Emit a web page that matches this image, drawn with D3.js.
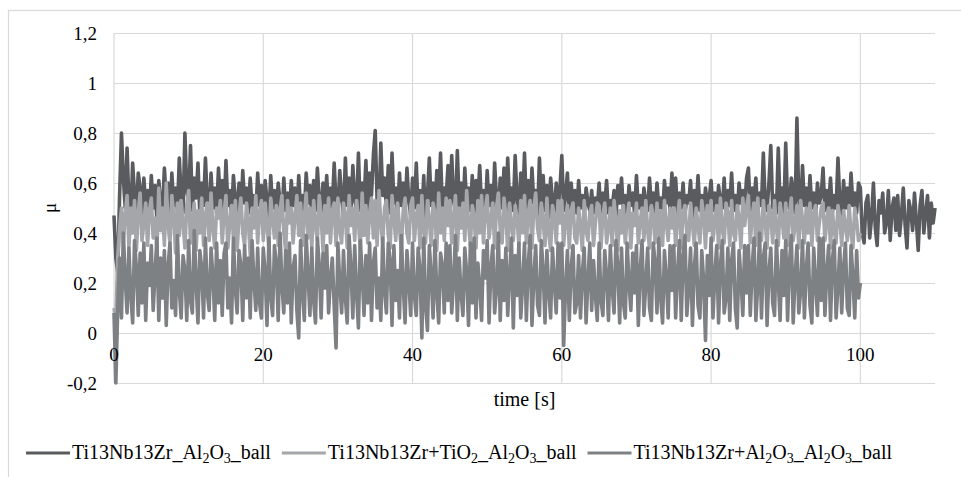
<!DOCTYPE html>
<html>
<head>
<meta charset="utf-8">
<script src="https://cdn.jsdelivr.net/npm/d3@7"></script>
<style>
  body { margin: 0; background: #fff; }
  text { font-family: "Liberation Serif", "Times New Roman", Times, "DejaVu Serif", "Noto Serif", serif; fill: #000; }
</style>
</head>
<body>
<div id="chart"></div>
<script>
// friction coefficient vs time, sampled every 0.25 s
var sampleStep = 0.25;

var yTicks = [-0.2, 0, 0.2, 0.4, 0.6, 0.8, 1, 1.2];
var xTicks = [0, 20, 40, 60, 80, 100];

var seriesNames = [
    "Ti13Nb13Zr_Al2O3_ball",
    "Ti13Nb13Zr+TiO2_Al2O3_ball",
    "Ti13Nb13Zr+Al2O3_Al2O3_ball"
];

// Ti13Nb13Zr_Al2O3_ball (0 - 110 s), one row = 5 s
var muBase = [
    0.47, 0.30, 0.24, 0.55, 0.80, 0.62, 0.50, 0.74, 0.52, 0.47, 0.68, 0.55, 0.49, 0.64, 0.58, 0.46, 0.62, 0.51, 0.57, 0.48,
    0.63, 0.50, 0.59, 0.45, 0.61, 0.52, 0.48, 0.66, 0.53, 0.60, 0.47, 0.64, 0.51, 0.58, 0.49, 0.70, 0.55, 0.48, 0.80, 0.57,
    0.52, 0.75, 0.49, 0.62, 0.54, 0.68, 0.47, 0.60, 0.51, 0.70, 0.53, 0.46, 0.64, 0.50, 0.58, 0.48, 0.66, 0.52, 0.61, 0.49,
    0.69, 0.51, 0.57, 0.47, 0.63, 0.53, 0.49, 0.60, 0.46, 0.65, 0.52, 0.58, 0.48, 0.62, 0.50, 0.55, 0.47, 0.64, 0.51, 0.59,
    0.48, 0.61, 0.53, 0.46, 0.63, 0.50, 0.57, 0.48, 0.60, 0.52, 0.45, 0.62, 0.49, 0.56, 0.47, 0.61, 0.51, 0.58, 0.46, 0.63,
    0.50, 0.55, 0.48, 0.64, 0.52, 0.59, 0.47, 0.61, 0.49, 0.66, 0.53, 0.48, 0.60, 0.51, 0.63, 0.47, 0.58, 0.50, 0.68, 0.52,
    0.49, 0.65, 0.54, 0.47, 0.70, 0.51, 0.62, 0.48, 0.67, 0.53, 0.50, 0.72, 0.49, 0.60, 0.52, 0.69, 0.48, 0.64, 0.55, 0.71,
    0.81, 0.53, 0.49, 0.76, 0.55, 0.62, 0.50, 0.67, 0.48, 0.72, 0.52, 0.58, 0.47, 0.64, 0.51, 0.60, 0.49, 0.66, 0.53, 0.47,
    0.62, 0.50, 0.68, 0.49, 0.57, 0.46, 0.63, 0.42, 0.55, 0.70, 0.51, 0.60, 0.48, 0.65, 0.52, 0.72, 0.49, 0.58, 0.54, 0.67,
    0.50, 0.71, 0.53, 0.48, 0.73, 0.51, 0.60, 0.47, 0.66, 0.52, 0.58, 0.49, 0.63, 0.46, 0.61, 0.53, 0.67, 0.50, 0.57, 0.48,
    0.65, 0.51, 0.59, 0.47, 0.68, 0.53, 0.49, 0.62, 0.50, 0.66, 0.48, 0.70, 0.52, 0.58, 0.49, 0.71, 0.54, 0.47, 0.64, 0.51,
    0.72, 0.50, 0.61, 0.48, 0.66, 0.52, 0.57, 0.47, 0.70, 0.51, 0.63, 0.49, 0.59, 0.46, 0.62, 0.53, 0.48, 0.60, 0.50, 0.58,
    0.71, 0.49, 0.55, 0.64, 0.47, 0.60, 0.51, 0.57, 0.48, 0.61, 0.50, 0.55, 0.47, 0.58, 0.52, 0.49, 0.57, 0.48, 0.54, 0.50,
    0.60, 0.47, 0.56, 0.51, 0.61, 0.48, 0.53, 0.50, 0.57, 0.46, 0.59, 0.52, 0.62, 0.49, 0.55, 0.47, 0.59, 0.51, 0.56, 0.48,
    0.63, 0.50, 0.55, 0.47, 0.58, 0.52, 0.49, 0.62, 0.51, 0.56, 0.48, 0.60, 0.50, 0.54, 0.47, 0.61, 0.52, 0.58, 0.49, 0.64,
    0.51, 0.62, 0.48, 0.56, 0.50, 0.60, 0.47, 0.55, 0.52, 0.61, 0.45, 0.57, 0.50, 0.63, 0.49, 0.55, 0.48, 0.58, 0.51, 0.54,
    0.61, 0.49, 0.56, 0.48, 0.59, 0.52, 0.50, 0.62, 0.47, 0.57, 0.51, 0.64, 0.49, 0.55, 0.48, 0.60, 0.52, 0.57, 0.50, 0.62,
    0.66, 0.49, 0.58, 0.53, 0.62, 0.48, 0.56, 0.51, 0.72, 0.52, 0.49, 0.60, 0.75, 0.50, 0.55, 0.48, 0.74, 0.51, 0.58, 0.48,
    0.76, 0.52, 0.50, 0.62, 0.57, 0.48, 0.86, 0.53, 0.49, 0.67, 0.51, 0.58, 0.48, 0.63, 0.50, 0.56, 0.47, 0.60, 0.52, 0.55,
    0.66, 0.49, 0.57, 0.51, 0.62, 0.48, 0.55, 0.50, 0.70, 0.52, 0.47, 0.61, 0.50, 0.58, 0.49, 0.64, 0.51, 0.56, 0.48, 0.60,
    0.58, 0.40, 0.36, 0.52, 0.55, 0.38, 0.46, 0.60, 0.42, 0.35, 0.53, 0.48, 0.56, 0.40, 0.44, 0.57, 0.37, 0.50, 0.54, 0.41,
    0.55, 0.39, 0.47, 0.58, 0.43, 0.34, 0.53, 0.49, 0.41, 0.56, 0.45, 0.33, 0.51, 0.57, 0.40, 0.48, 0.55, 0.38, 0.52, 0.44,
    0.50
];

// Ti13Nb13Zr+TiO2_Al2O3_ball (0 - 100 s)
var muTiO2 = [
    0.10, 0.05, 0.30, 0.42, 0.50, 0.36, 0.47, 0.55, 0.34, 0.50, 0.40, 0.53, 0.33, 0.48, 0.56, 0.37, 0.44, 0.52, 0.35, 0.49,
    0.54, 0.38, 0.46, 0.33, 0.58, 0.41, 0.50, 0.35, 0.60, 0.43, 0.36, 0.55, 0.47, 0.32, 0.52, 0.39, 0.53, 0.44, 0.34, 0.51,
    0.57, 0.36, 0.45, 0.52, 0.33, 0.49, 0.40, 0.54, 0.35, 0.47, 0.52, 0.37, 0.56, 0.42, 0.34, 0.50, 0.46, 0.53, 0.36, 0.48,
    0.55, 0.34, 0.44, 0.51, 0.38, 0.53, 0.33, 0.47, 0.54, 0.40, 0.35, 0.52, 0.45, 0.31, 0.50, 0.42, 0.55, 0.36, 0.48, 0.53,
    0.37, 0.52, 0.43, 0.34, 0.54, 0.46, 0.38, 0.51, 0.35, 0.49, 0.55, 0.40, 0.33, 0.53, 0.44, 0.50, 0.36, 0.47, 0.55, 0.39,
    0.52, 0.35, 0.46, 0.56, 0.38, 0.50, 0.34, 0.53, 0.43, 0.37, 0.55, 0.47, 0.33, 0.51, 0.40, 0.54, 0.36, 0.49, 0.52, 0.35,
    0.54, 0.41, 0.36, 0.52, 0.47, 0.34, 0.55, 0.43, 0.50, 0.37, 0.53, 0.45, 0.33, 0.56, 0.39, 0.51, 0.36, 0.48, 0.54, 0.38,
    0.53, 0.35, 0.57, 0.44, 0.36, 0.50, 0.53, 0.39, 0.34, 0.55, 0.46, 0.37, 0.52, 0.42, 0.33, 0.49, 0.54, 0.40, 0.36, 0.51,
    0.54, 0.37, 0.47, 0.51, 0.34, 0.55, 0.41, 0.36, 0.53, 0.45, 0.35, 0.52, 0.48, 0.33, 0.56, 0.40, 0.50, 0.37, 0.54, 0.43,
    0.53, 0.36, 0.46, 0.55, 0.33, 0.50, 0.42, 0.52, 0.37, 0.57, 0.44, 0.35, 0.51, 0.47, 0.34, 0.53, 0.40, 0.55, 0.36, 0.49,
    0.55, 0.38, 0.45, 0.52, 0.34, 0.50, 0.56, 0.41, 0.36, 0.54, 0.47, 0.33, 0.52, 0.43, 0.37, 0.51, 0.46, 0.35, 0.53, 0.40,
    0.55, 0.36, 0.48, 0.53, 0.34, 0.50, 0.56, 0.42, 0.37, 0.52, 0.45, 0.35, 0.54, 0.40, 0.33, 0.51, 0.47, 0.36, 0.53, 0.44,
    0.53, 0.35, 0.46, 0.51, 0.34, 0.49, 0.52, 0.38, 0.36, 0.50, 0.43, 0.33, 0.53, 0.41, 0.37, 0.48, 0.51, 0.35, 0.44, 0.52,
    0.51, 0.34, 0.47, 0.52, 0.36, 0.42, 0.50, 0.35, 0.53, 0.45, 0.33, 0.49, 0.40, 0.51, 0.36, 0.46, 0.52, 0.34, 0.48, 0.43,
    0.52, 0.36, 0.45, 0.50, 0.37, 0.53, 0.41, 0.34, 0.51, 0.47, 0.36, 0.52, 0.39, 0.49, 0.35, 0.53, 0.44, 0.37, 0.50, 0.42,
    0.50, 0.35, 0.46, 0.53, 0.34, 0.48, 0.51, 0.40, 0.37, 0.52, 0.44, 0.35, 0.50, 0.43, 0.36, 0.53, 0.47, 0.34, 0.51, 0.41,
    0.53, 0.37, 0.45, 0.51, 0.34, 0.54, 0.42, 0.36, 0.52, 0.48, 0.35, 0.53, 0.40, 0.37, 0.51, 0.46, 0.34, 0.54, 0.43, 0.50,
    0.55, 0.36, 0.47, 0.52, 0.35, 0.54, 0.41, 0.37, 0.53, 0.45, 0.34, 0.51, 0.48, 0.36, 0.53, 0.42, 0.35, 0.52, 0.46, 0.38,
    0.52, 0.35, 0.47, 0.54, 0.37, 0.43, 0.51, 0.34, 0.53, 0.45, 0.36, 0.50, 0.40, 0.52, 0.35, 0.48, 0.51, 0.37, 0.44, 0.50,
    0.52, 0.37, 0.45, 0.50, 0.34, 0.49, 0.41, 0.36, 0.51, 0.46, 0.35, 0.49, 0.43, 0.37, 0.51, 0.40, 0.34, 0.50, 0.45, 0.37,
    0.40
];

// Ti13Nb13Zr+Al2O3_Al2O3_ball (0 - 100 s)
var muAl2O3 = [
    0.08, -0.20, 0.10, 0.30, 0.06, 0.40, 0.22, 0.08, 0.34, 0.15, 0.04, 0.37, 0.26, 0.07, 0.32, 0.12, 0.36, 0.05, 0.28, 0.19,
    0.35, 0.09, 0.24, 0.38, 0.05, 0.30, 0.14, 0.33, 0.03, 0.27, 0.36, 0.10, 0.21, 0.07, 0.39, 0.17, 0.06, 0.31, 0.25, 0.05,
    0.37, 0.13, 0.08, 0.41, 0.20, 0.04, 0.33, 0.26, 0.06, 0.38, 0.16, 0.09, 0.34, 0.23, 0.05, 0.36, 0.12, 0.29, 0.07, 0.32,
    0.36, 0.10, 0.22, 0.04, 0.38, 0.18, 0.08, 0.33, 0.27, 0.05, 0.35, 0.14, 0.30, 0.06, 0.37, 0.21, 0.09, 0.34, 0.12, 0.06,
    0.34, 0.24, 0.03, 0.38, 0.15, 0.07, 0.35, 0.28, 0.05, 0.40, 0.19, 0.08, 0.33, 0.12, 0.36, 0.04, 0.26, 0.31, 0.09, -0.02,
    0.37, 0.17, 0.05, 0.39, 0.23, 0.07, 0.34, 0.13, 0.04, 0.38, 0.27, 0.06, 0.32, 0.18, 0.35, 0.08, 0.22, 0.30, 0.11, -0.06,
    0.36, 0.20, 0.08, 0.33, 0.14, 0.04, 0.39, 0.26, 0.06, 0.35, 0.16, 0.02, 0.37, 0.24, 0.07, 0.31, 0.12, 0.36, 0.05, 0.28,
    0.34, 0.10, 0.22, 0.05, 0.38, 0.17, 0.08, 0.36, 0.29, 0.03, 0.35, 0.13, 0.25, 0.06, 0.39, 0.19, 0.04, 0.33, 0.21, 0.07,
    0.36, 0.15, 0.07, 0.34, 0.25, -0.02, 0.38, 0.11, 0.01, 0.35, 0.23, 0.06, 0.37, 0.16, 0.04, 0.32, 0.27, 0.08, 0.36, 0.13,
    0.35, 0.08, 0.21, 0.39, 0.05, 0.30, 0.16, 0.07, 0.34, 0.24, 0.03, 0.36, 0.12, 0.38, 0.06, 0.28, 0.19, 0.05, 0.33, 0.22,
    0.37, 0.04, 0.26, 0.35, 0.08, 0.18, 0.40, 0.05, 0.29, 0.13, 0.34, 0.07, 0.23, 0.38, 0.02, 0.31, 0.15, 0.36, 0.06, 0.20,
    0.36, 0.05, 0.27, 0.39, 0.03, 0.22, 0.35, 0.11, 0.07, 0.37, 0.25, 0.04, 0.33, 0.17, 0.06, 0.34, 0.20, 0.08, 0.36, 0.14,
    0.36, -0.05, 0.18, 0.33, 0.05, 0.26, 0.35, 0.08, 0.12, 0.31, 0.06, 0.24, 0.34, 0.04, 0.21, 0.36, 0.09, 0.29, 0.15, 0.05,
    0.36, 0.13, 0.07, 0.33, 0.23, 0.05, 0.35, 0.18, 0.08, 0.37, 0.27, 0.04, 0.34, 0.12, 0.06, 0.36, 0.20, 0.09, 0.32, 0.16,
    0.35, 0.03, 0.25, 0.37, 0.07, 0.19, 0.34, 0.10, 0.05, 0.36, 0.28, 0.08, 0.38, 0.14, 0.04, 0.33, 0.22, 0.06, 0.35, 0.17,
    0.35, 0.06, 0.24, 0.37, 0.05, 0.30, 0.39, 0.07, 0.18, 0.34, 0.03, 0.26, 0.36, 0.11, 0.06, 0.33, 0.21, -0.03, 0.31, 0.15,
    0.38, 0.06, 0.23, 0.35, 0.04, 0.27, 0.37, 0.08, 0.14, 0.34, 0.05, 0.29, 0.36, 0.10, 0.02, 0.33, 0.22, 0.07, 0.35, 0.16,
    0.35, 0.07, 0.26, 0.38, 0.05, 0.19, 0.40, 0.06, 0.30, 0.36, 0.03, 0.24, 0.34, 0.12, 0.07, 0.37, 0.21, 0.05, 0.33, 0.15,
    0.37, 0.05, 0.28, 0.39, 0.04, 0.22, 0.35, 0.08, 0.17, 0.37, 0.06, 0.25, 0.36, 0.11, 0.04, 0.34, 0.20, 0.07, 0.38, 0.13,
    0.38, 0.07, 0.24, 0.35, 0.05, 0.29, 0.37, 0.06, 0.19, 0.34, 0.08, 0.26, 0.36, 0.10, 0.07, 0.35, 0.22, 0.06, 0.33, 0.14,
    0.20
];

var seriesColors = ["#595b5e", "#a4a6a9", "#7e8184"];

var svgWidth = 961;
var svgHeight = 477;

var chartMargin = { top: 33, right: 26, bottom: 94, left: 114 };
var chartWidth = svgWidth - chartMargin.left - chartMargin.right;
var chartHeight = svgHeight - chartMargin.top - chartMargin.bottom;

var fontSize = 19;

var svg = d3.select("#chart")
    .append("svg")
    .attr("width", svgWidth)
    .attr("height", svgHeight);

// outer chart frame (runs off the right / bottom of the picture)
svg.append("rect")
    .attr("x", 8.5)
    .attr("y", 10.5)
    .attr("width", svgWidth + 20)
    .attr("height", svgHeight + 20)
    .attr("fill", "none")
    .attr("stroke", "#d9d9d9")
    .attr("stroke-width", 1.2);

var chartGroup = svg.append("g")
    .attr("transform", `translate(${chartMargin.left}, ${chartMargin.top})`);

var xScale = d3.scaleLinear().domain([0, 110]).range([0, chartWidth]);
var yScale = d3.scaleLinear().domain([-0.2, 1.2]).range([chartHeight, 0]);

var fmt = d => String(+d.toFixed(1)).replace(".", ",");

// horizontal grid + y labels
var leftAxis = d3.axisLeft(yScale)
    .tickValues(yTicks)
    .tickSize(-chartWidth)
    .tickPadding(17)
    .tickFormat(fmt);

var yAxisG = chartGroup.append("g").call(leftAxis);
yAxisG.attr("font-family", null).attr("font-size", null);
yAxisG.select(".domain").remove();
yAxisG.selectAll("line").attr("stroke", "#d9d9d9").attr("stroke-width", 1.2);
yAxisG.selectAll("text")
    .style("font-size", fontSize + "px")
    .attr("fill", "#000");

// vertical grid
chartGroup.selectAll(".vgrid")
    .data(xTicks)
    .enter()
    .append("line")
    .attr("class", "vgrid")
    .attr("x1", d => xScale(d))
    .attr("x2", d => xScale(d))
    .attr("y1", 0)
    .attr("y2", chartHeight)
    .attr("stroke", "#d9d9d9")
    .attr("stroke-width", 1.2);

// series, drawn in legend order
var allSeries = [muBase, muTiO2, muAl2O3];

var line = d3.line()
    .x((d, i) => xScale(i * sampleStep))
    .y(d => yScale(d));

chartGroup.selectAll(".series")
    .data(allSeries)
    .enter()
    .append("path")
    .attr("class", "series")
    .attr("d", d => line(d))
    .attr("fill", "none")
    .attr("stroke", (d, i) => seriesColors[i])
    .attr("stroke-width", 3.6)
    .attr("stroke-linejoin", "round");

// x labels sit on the zero line (excel style)
chartGroup.selectAll(".xlabel")
    .data(xTicks)
    .enter()
    .append("text")
    .attr("class", "xlabel")
    .attr("x", d => xScale(d))
    .attr("y", yScale(0) + 28)
    .attr("text-anchor", "middle")
    .style("font-size", fontSize + "px")
    .text(d => d);

// axis titles
chartGroup.append("text")
    .attr("transform", `translate(${-58}, ${chartHeight / 2}) rotate(-90)`)
    .attr("text-anchor", "middle")
    .style("font-size", fontSize + "px")
    .text("μ");

chartGroup.append("text")
    .attr("x", chartWidth / 2)
    .attr("y", chartHeight + 23)
    .attr("text-anchor", "middle")
    .style("font-size", (fontSize + 1) + "px")
    .text("time [s]");

// legend
var legendFont = 20;
var legend = svg.append("g").attr("transform", "translate(26, 453)");
var legendX = 0;

seriesNames.forEach(function(name, i) {
    legend.append("line")
        .attr("x1", legendX)
        .attr("x2", legendX + 44)
        .attr("y1", 0)
        .attr("y2", 0)
        .attr("stroke", seriesColors[i])
        .attr("stroke-width", 3);

    var label = legend.append("text")
        .attr("x", legendX + 46)
        .attr("y", 6)
        .style("font-size", legendFont + "px");

    // subscript the digits in Al2, O2, O3
    var shift = 0;
    var parts = name.split(/((?:Al|O)\d)/);
    parts.forEach(function(p) {
        var m = p.match(/^(Al|O)(\d)$/);
        if (m) {
            label.append("tspan").attr("dy", -shift).text(m[1]);
            label.append("tspan")
                .attr("dy", 4)
                .style("font-size", Math.round(legendFont * 0.68) + "px")
                .text(m[2]);
            shift = 4;
        } else if (p) {
            label.append("tspan").attr("dy", -shift).text(p);
            shift = 0;
        }
    });

    legendX += 46 + label.node().getComputedTextLength() + 11;
});
</script>
</body>
</html>
